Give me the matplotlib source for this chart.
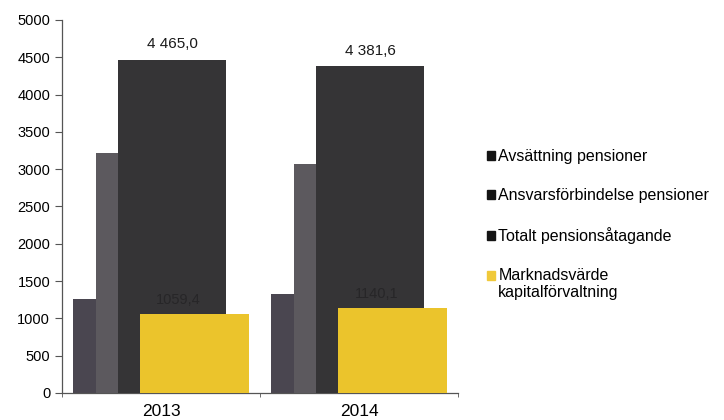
import numpy as np
import matplotlib.pyplot as plt
from matplotlib.patches import Patch, Rectangle
from matplotlib.legend_handler import HandlerPatch

plt.rcParams['font.family'] = ['Liberation Sans', 'DejaVu Sans']

years = ['2013', '2014']
avsattning = [1255, 1326]
ansvar = [3220, 3068]
totalt = [4465.0, 4381.6]
marknad = [1059.4, 1140.1]

series = [avsattning, ansvar, totalt, marknad]
names = ['Avsättning pensioner', 'Ansvarsförbindelse pensioner',
         'Totalt pensionsåtagande', 'Marknadsvärde\nkapitalförvaltning']
colors = ['#4a4650', '#5c595e', '#353436', '#ebc42c']

def fmt(v, sep=' '):
    s = '{:,.1f}'.format(v)
    return s.replace(',', sep).replace('.', ',')

fig = plt.figure(figsize=(7.24, 4.2), dpi=100)
ax = fig.add_axes([0.0856, 0.0643, 0.547, 0.8883])

x = np.arange(len(years))
w = 0.548
step = 0.113
bars = []
for i, (vals, c) in enumerate(zip(series, colors)):
    b = ax.bar(x + (i - 1.5) * step, vals, w, color=c, zorder=2 + i)
    bars.append(b)

# value labels on the total and on the market value bars
for rect, v in zip(bars[2], totalt):
    ax.annotate(fmt(v), (rect.get_x() + rect.get_width() / 2, v),
                xytext=(0, 6), textcoords='offset points',
                ha='center', va='bottom', fontsize=11, color='#1a1a1a', zorder=10)
for rect, v in zip(bars[3], marknad):
    ax.annotate(fmt(v, ''), (rect.get_x() + rect.get_width() / 2 - 0.08, v),
                xytext=(0, 5), textcoords='offset points',
                ha='center', va='bottom', fontsize=10.5, color='#272628', zorder=10)

ax.set_xlim(-0.5, 1.5)
ax.set_ylim(0, 5000)
ax.set_yticks(np.arange(0, 5001, 500))
ax.set_xticks(x)
ax.set_xticklabels(years, fontsize=12.5)
ax.set_xticks([-0.5, 0.5, 1.5], minor=True)
ax.tick_params(axis='x', which='major', length=0, pad=8)
ax.tick_params(axis='x', which='minor', length=3, direction='out', color='#555555')
ax.tick_params(axis='y', length=5, direction='out', color='#555555', labelsize=10.5)
for s in ['top', 'right']:
    ax.spines[s].set_visible(False)
for s in ['left', 'bottom']:
    ax.spines[s].set_color('#555555')
    ax.spines[s].set_linewidth(0.9)


# two-line entry: keep the square level with the first line
def top_square(legend, orig_handle, xdescent, ydescent, width, height, fontsize):
    return Rectangle((-xdescent, -ydescent + 0.55 * fontsize), width, height)


handles = [Patch(color=c) for c in ['#141414', '#141414', '#141414', '#f0c93a']]
fig.legend(handles, names, loc='upper left', bbox_to_anchor=(0.664, 0.66),
           frameon=False, fontsize=11.5, handlelength=0.5, handleheight=0.5,
           handletextpad=0.2, labelspacing=1.5, borderaxespad=0,
           handler_map={handles[3]: HandlerPatch(patch_func=top_square)})

fig.savefig('out.png', dpi=100)
